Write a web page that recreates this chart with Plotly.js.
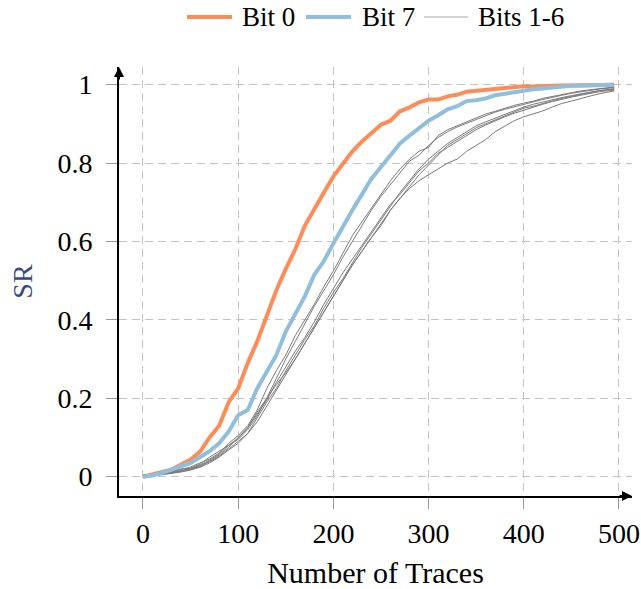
<!DOCTYPE html>
<html>
<head>
<meta charset="utf-8">
<script src="https://cdn.plot.ly/plotly-3.0.1.min.js"></script>
<style>html,body{margin:0;padding:0;background:#fff;}#chart{width:641px;height:589px;}</style>
</head>
<body>
<div id="chart"></div>
<script>
// Number of traces (x positions)
const traces = [0,10,20,30,40,50,60,70,80,90,100,110,120,130,140,150,160,170,180,190,200,210,220,230,240,250,260,270,280,290,300,310,320,330,340,350,360,370,380,390,400,410,420,430,440,450,460,470,480,490,495];

// Success rate per bit
const bit0 = [0,0.005,0.012,0.018,0.03,0.044,0.064,0.1,0.13,0.19,0.225,0.29,0.345,0.41,0.475,0.53,0.58,0.64,0.685,0.725,0.766,0.8,0.83,0.855,0.875,0.898,0.908,0.932,0.942,0.955,0.962,0.962,0.97,0.974,0.982,0.984,0.987,0.988,0.99,0.992,0.996,0.995,0.997,0.997,0.998,0.998,0.999,0.999,1.0,1.0,1.0];
const bit7 = [0,0.003,0.01,0.018,0.025,0.035,0.05,0.065,0.085,0.115,0.157,0.17,0.225,0.27,0.31,0.37,0.415,0.46,0.515,0.55,0.595,0.64,0.68,0.72,0.76,0.79,0.822,0.85,0.87,0.89,0.908,0.922,0.937,0.945,0.958,0.96,0.965,0.973,0.977,0.981,0.986,0.988,0.99,0.993,0.996,0.997,0.997,0.998,0.999,1.0,1.0];
const bit1 = [0.005,0.004,0.008,0.012,0.018,0.025,0.035,0.045,0.06,0.085,0.105,0.13,0.17,0.225,0.27,0.31,0.36,0.40,0.44,0.485,0.525,0.57,0.615,0.65,0.685,0.72,0.755,0.785,0.81,0.83,0.84,0.87,0.885,0.895,0.905,0.915,0.925,0.932,0.94,0.947,0.953,0.958,0.965,0.97,0.975,0.98,0.984,0.987,0.99,0.993,0.994];
const bit2 = [0.002,0.006,0.007,0.014,0.02,0.022,0.032,0.05,0.065,0.08,0.098,0.125,0.165,0.2,0.25,0.3,0.345,0.39,0.435,0.475,0.515,0.56,0.6,0.64,0.68,0.715,0.745,0.775,0.805,0.82,0.845,0.865,0.88,0.892,0.902,0.912,0.92,0.93,0.937,0.944,0.95,0.956,0.962,0.968,0.973,0.978,0.982,0.986,0.989,0.991,0.993];
const bit3 = [0.003,0.004,0.007,0.01,0.015,0.02,0.03,0.042,0.058,0.08,0.095,0.12,0.155,0.2,0.235,0.265,0.3,0.34,0.38,0.42,0.46,0.5,0.54,0.575,0.61,0.64,0.68,0.71,0.74,0.77,0.795,0.82,0.845,0.86,0.875,0.89,0.9,0.91,0.92,0.93,0.94,0.945,0.952,0.958,0.965,0.97,0.975,0.98,0.985,0.988,0.99];
const bit4 = [0.004,0.002,0.006,0.011,0.013,0.018,0.028,0.038,0.052,0.07,0.09,0.11,0.15,0.19,0.225,0.27,0.31,0.35,0.385,0.43,0.47,0.505,0.545,0.585,0.62,0.655,0.69,0.725,0.755,0.785,0.81,0.83,0.85,0.865,0.88,0.895,0.905,0.915,0.925,0.935,0.943,0.95,0.956,0.962,0.967,0.972,0.977,0.981,0.985,0.987,0.988];
const bit5 = [0.001,0.005,0.008,0.009,0.016,0.021,0.025,0.04,0.055,0.075,0.1,0.125,0.16,0.195,0.24,0.28,0.32,0.355,0.395,0.44,0.48,0.52,0.555,0.59,0.625,0.66,0.695,0.72,0.75,0.78,0.80,0.825,0.84,0.855,0.87,0.885,0.897,0.908,0.918,0.927,0.935,0.942,0.95,0.957,0.963,0.968,0.973,0.978,0.982,0.985,0.986];
const bit6 = [0.003,0.003,0.005,0.008,0.012,0.017,0.024,0.035,0.05,0.068,0.085,0.11,0.14,0.18,0.22,0.26,0.3,0.34,0.38,0.42,0.46,0.5,0.54,0.575,0.61,0.645,0.68,0.71,0.735,0.755,0.77,0.785,0.8,0.81,0.83,0.845,0.86,0.88,0.895,0.908,0.918,0.925,0.933,0.943,0.952,0.958,0.965,0.971,0.977,0.982,0.984];

const xTicks = [0,100,200,300,400,500];
const yTicks = [0,0.2,0.4,0.6,0.8,1];
const yTickText = ['0','0.2','0.4','0.6','0.8','1'];
const legendLabels = ['Bit 0', 'Bit 7', 'Bits 1-6'];

const FONT = 'Liberation Serif, Times New Roman, serif';
const ORANGE = '#fc8d59', BLUE = '#91bfdb', GRAY = '#7a7a7a';
const grayBits = [bit1, bit2, bit3, bit4, bit5, bit6];

const data = [];
grayBits.forEach((ys) => {
  data.push({x: traces, y: ys, type: 'scatter', mode: 'lines', name: 'Bits 1-6',
    line: {color: GRAY, width: 1}});
});
data.push({x: traces, y: bit0, type: 'scatter', mode: 'lines', name: 'Bit 0',
  line: {color: ORANGE, width: 4}});
data.push({x: traces, y: bit7, type: 'scatter', mode: 'lines', name: 'Bit 7',
  line: {color: BLUE, width: 4}});

const axisCommon = {
  showline: true, linecolor: '#000', linewidth: 2,
  showgrid: true, gridcolor: '#c4c4c4', gridwidth: 1, griddash: '8px,5px',
  zeroline: false, ticks: 'outside', ticklen: 11, tickcolor: '#999', tickwidth: 1,
  tickfont: {family: FONT, size: 28, color: '#000'}
};

// legend drawn as paper-positioned key (line samples + labels)
const PW = 513, PH = 429, PL = 119, PB = 496;
const px = v => (v - PL) / PW;
const py = v => (PB - v) / PH;
const legY = py(17);
const legItems = [
  {x0: 187, x1: 232, tx: 240, color: ORANGE, w: 4, label: legendLabels[0]},
  {x0: 306, x1: 351, tx: 360, color: BLUE, w: 4, label: legendLabels[1]},
  {x0: 424, x1: 468, tx: 476, color: '#aaaaaa', w: 1.2, label: legendLabels[2]}
];
const shapes = legItems.map(it => ({type: 'line', xref: 'paper', yref: 'paper',
  x0: px(it.x0), x1: px(it.x1), y0: legY, y1: legY, line: {color: it.color, width: it.w}}));
const annotations = legItems.map(it => ({xref: 'paper', yref: 'paper', x: px(it.tx), y: legY,
  xanchor: 'left', yanchor: 'middle', text: it.label, showarrow: false,
  font: {family: FONT, size: 27, color: '#000'}}));
annotations.push(
  {xref: 'paper', yref: 'paper', x: 1, y: 0, ax: -14, ay: 0, text: '', showarrow: true,
    arrowhead: 2, arrowsize: 1, arrowwidth: 2, arrowcolor: '#000', standoff: 0},
  {xref: 'paper', yref: 'paper', x: 0, y: 1, ax: 0, ay: 14, text: '', showarrow: true,
    arrowhead: 2, arrowsize: 1, arrowwidth: 2, arrowcolor: '#000', standoff: 0}
);

const layout = {
  width: 641, height: 589,
  margin: {l: 119, r: 9, t: 67, b: 93, autoexpand: false},
  paper_bgcolor: '#fff', plot_bgcolor: '#fff',
  font: {family: FONT, size: 28, color: '#000'},
  showlegend: false,
  xaxis: Object.assign({}, axisCommon, {
    range: [-25.2, 513.7], tickvals: xTicks, ticktext: xTicks.map(String),
    title: {text: 'Number of Traces', font: {family: FONT, size: 30, color: '#000'}, standoff: 15}
  }),
  yaxis: Object.assign({}, axisCommon, {
    range: [-0.0493, 1.045], tickvals: yTicks, ticktext: yTickText, ticklabelstandoff: 8,
    title: {text: 'SR', font: {family: FONT, size: 28, color: '#3a4888'}, standoff: 17}
  }),
  shapes: shapes,
  annotations: annotations
};

Plotly.newPlot('chart', data, layout, {displayModeBar: false, staticPlot: true});
</script>
</body>
</html>
